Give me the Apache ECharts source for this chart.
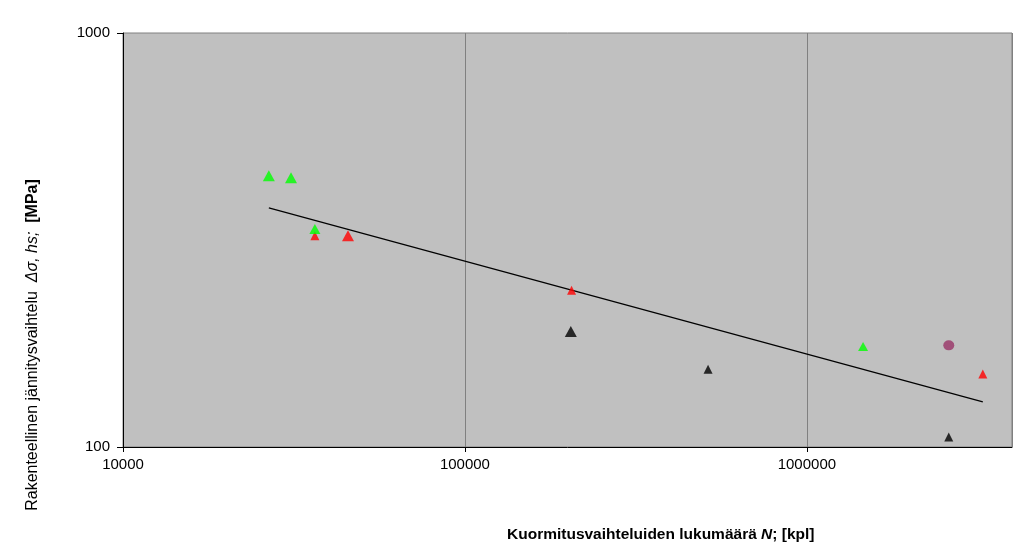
<!DOCTYPE html>
<html>
<head>
<meta charset="utf-8">
<script src="https://cdn.jsdelivr.net/npm/echarts@6/dist/echarts.min.js"></script>
<style>html,body{margin:0;padding:0;background:#fff;}#c{width:1023px;height:554px;}</style>
</head>
<body>
<div id="c"></div>
<script>
// N (cycles) and stress range (MPa)
const greenN = [26700, 31000, 36400, 1460000];
const greenS = [452, 447, 336, 175];
const redN = [36400, 45500, 205000, 3270000];
const redS = [324, 324, 239, 150];
const blackN = [204000, 514000, 2600000];
const blackS = [190, 154, 105.7];
const purpleN = [2600000];
const purpleS = [176];
const trendN = [26700, 3270000];
const trendS = [378, 128.5];
const xTicks = [10000, 100000, 1000000];
const yTicks = [100, 1000];

const greenSizes = [[12, 11], [12, 11], [11, 10], [10, 9]];
const redSizes = [[9, 9], [12, 11], [9, 9], [9, 9]];
const blackSizes = [[12, 11], [9, 9], [9, 9]];

function pairs(a, b) { return a.map((v, i) => [v, b[i]]); }

const FONT = '"Liberation Sans", Arial, sans-serif';
const chart = echarts.init(document.getElementById('c'), null, { renderer: 'canvas' });
chart.setOption({
  animation: false,
  backgroundColor: '#ffffff',
  grid: {
    left: 123, top: 33, width: 889, height: 414,
    show: true, backgroundColor: '#c0c0c0', borderColor: '#808080', borderWidth: 1
  },
  xAxis: {
    type: 'log', logBase: 10, min: xTicks[0], max: 3980000,
    axisLine: { show: true, lineStyle: { color: '#000', width: 1 } },
    axisTick: { show: true, inside: false, length: 5, lineStyle: { color: '#000' } },
    axisLabel: { color: '#000', fontFamily: FONT, fontSize: 15, margin: 10, showMaxLabel: false,
      formatter: v => String(Math.round(v)) },
    splitLine: { show: true, lineStyle: { color: '#808080', width: 1 } },
    minorTick: { show: false }
  },
  yAxis: {
    type: 'log', logBase: 10, min: yTicks[0], max: yTicks[1],
    axisLine: { show: true, lineStyle: { color: '#000', width: 1 } },
    axisTick: { show: true, inside: false, length: 6, lineStyle: { color: '#000' } },
    axisLabel: { color: '#000', fontFamily: FONT, fontSize: 15, margin: 13,
      formatter: v => String(Math.round(v)) },
    splitLine: { show: false }
  },
  series: [
    { type: 'line', data: pairs(trendN, trendS), showSymbol: false, symbol: 'none',
      lineStyle: { color: '#000', width: 1.2 }, z: 2 },
    { type: 'scatter', data: pairs(redN, redS), symbol: 'triangle',
      symbolSize: (v, p) => redSizes[p.dataIndex], itemStyle: { color: '#ff0000' }, z: 3 },
    { type: 'scatter', data: pairs(greenN, greenS), symbol: 'triangle',
      symbolSize: (v, p) => greenSizes[p.dataIndex], itemStyle: { color: '#00ff00' }, z: 4 },
    { type: 'scatter', data: pairs(blackN, blackS), symbol: 'triangle',
      symbolSize: (v, p) => blackSizes[p.dataIndex], itemStyle: { color: '#000000' }, z: 3 },
    { type: 'scatter', data: pairs(purpleN, purpleS), symbol: 'circle',
      symbolSize: [11, 10], itemStyle: { color: '#993366' }, z: 3 }
  ],
  graphic: [
    { type: 'text', left: 507, top: 527,
      style: { text: 'Kuormitusvaihteluiden lukumäärä {i|N}; [kpl]', fontFamily: FONT, fontSize: 15.5,
        fontWeight: 'bold', fill: '#000',
        rich: { i: { fontStyle: 'italic', fontWeight: 'bold', fontFamily: FONT, fontSize: 15.5 } } } },
    { type: 'text', x: 33, y: 345, rotation: Math.PI / 2,
      style: { text: 'Rakenteellinen jännitysvaihtelu  {i|Δσ, hs;}  {b|[MPa]}', fontFamily: FONT, fontSize: 16,
        fill: '#000', align: 'center', verticalAlign: 'middle',
        rich: { i: { fontStyle: 'italic', fontFamily: FONT, fontSize: 16 },
                b: { fontWeight: 'bold', fontFamily: FONT, fontSize: 16 } } } }
  ]
});
</script>
</body>
</html>
